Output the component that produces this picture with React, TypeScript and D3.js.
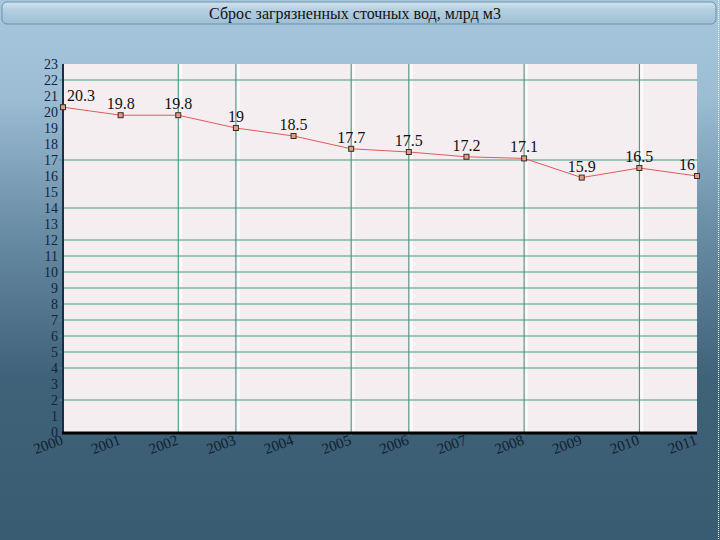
import React from "react";
import * as d3 from "d3";

const years = [2000, 2001, 2002, 2003, 2004, 2005, 2006, 2007, 2008, 2009, 2010, 2011];
const values = [20.3, 19.8, 19.8, 19, 18.5, 17.7, 17.5, 17.2, 17.1, 15.9, 16.5, 16];
const yTicks = d3.range(0, 24);
const hGrid = [22, 17, 14, 12, 11, 10, 9, 8, 7, 6, 5, 4, 2];
const vGrid = [2002, 2003, 2005, 2006, 2008, 2010];
const title = "Сброс загрязненных сточных вод, млрд м3";

const W = 720, H = 540;
const M = { left: 63, right: 697, top: 64, bottom: 432 };
const serif = "Liberation Serif, DejaVu Serif, Times New Roman, serif";

export default function App() {
  const x = d3.scaleLinear().domain([2000, 2011]).range([M.left, M.right]);
  const y = d3.scaleLinear().domain([0, 23]).range([M.bottom, M.top]);
  const line = d3.line<number>().x((_, i) => x(years[i])).y((d) => y(d));
  const ts = { fontFamily: serif };

  return (
    <svg width={W} height={H} style={{ position: "fixed", left: 0, top: 0, fontFamily: serif }}>
      <defs>
        <linearGradient id="bg" x1="0" y1="0" x2="0" y2="1">
          <stop offset="0%" stopColor="#a7c7dd" />
          <stop offset="18%" stopColor="#9cbdd4" />
          <stop offset="42%" stopColor="#6a8ea6" />
          <stop offset="70%" stopColor="#3f6279" />
          <stop offset="100%" stopColor="#3a5c73" />
        </linearGradient>
        <linearGradient id="tb" x1="0" y1="0" x2="0" y2="1">
          <stop offset="0%" stopColor="#d3e3ee" />
          <stop offset="35%" stopColor="#b4cfe1" />
          <stop offset="100%" stopColor="#9ebfd6" />
        </linearGradient>
      </defs>
      <rect x={0} y={0} width={W} height={H} fill="url(#bg)" />
      <rect x={2} y={2} width={714} height={22} rx={5} fill="url(#tb)" stroke="#6f90a8" strokeWidth={1} />
      <line x1={718.5} y1={0} x2={718.5} y2={H} stroke="#e8eef2" strokeWidth={1} strokeDasharray="1 1" />
      <text x={355} y={19} textAnchor="middle" fontSize={16} fill="#111" style={ts}>{title}</text>

      <rect x={M.left} y={M.top} width={M.right - M.left} height={M.bottom - M.top} fill="#f4eef0" />
      {vGrid.map((v) => (
        <rect key={"vb" + v} x={x(v) + 1} y={M.top} width={3} height={M.bottom - M.top} fill="#ffffff" opacity={0.6} />
      ))}

      {hGrid.map((v) => (
        <line key={"h" + v} x1={M.left - 4} x2={M.right} y1={y(v)} y2={y(v)} stroke="#3f9a80" strokeWidth={1} />
      ))}
      {vGrid.map((v) => (
        <line key={"v" + v} x1={x(v)} x2={x(v)} y1={M.top} y2={M.bottom + 4} stroke="#3f8a78" strokeWidth={1} />
      ))}

      <line x1={M.left} x2={M.left} y1={M.top} y2={M.bottom} stroke="#1c2e44" strokeWidth={2} />
      <line x1={M.left - 1} x2={M.right} y1={M.bottom + 1} y2={M.bottom + 1} stroke="#000" strokeWidth={3} />

      {yTicks.map((t) => (
        <text key={"yt" + t} x={58} y={y(t)} dy="0.35em" textAnchor="end" fontSize={14} fill="#14243a" style={ts}>{t}</text>
      ))}
      {years.map((yr) => (
        <text key={"xt" + yr} transform={`translate(${x(yr) + 1},${M.bottom + 12}) rotate(-20)`} textAnchor="end" fontSize={15} fill="#10202e" style={ts}>{yr}</text>
      ))}

      <path d={line(values) || ""} fill="none" stroke="#e05a5a" strokeWidth={1} />
      {values.map((v, i) => (
        <rect key={"m" + i} x={x(years[i]) - 2.5} y={y(v) - 2.5} width={5} height={5} fill="#e0a080" stroke="#3a2a2a" strokeWidth={1} />
      ))}
      {values.map((v, i) => {
        const first = i === 0, last = i === values.length - 1;
        return (
          <text key={"l" + i} x={x(years[i]) + (first ? 4 : last ? -2 : 0)} y={y(v) - 6}
            textAnchor={first ? "start" : last ? "end" : "middle"} fontSize={16} fill="#111" style={ts}>{v}</text>
        );
      })}
    </svg>
  );
}
